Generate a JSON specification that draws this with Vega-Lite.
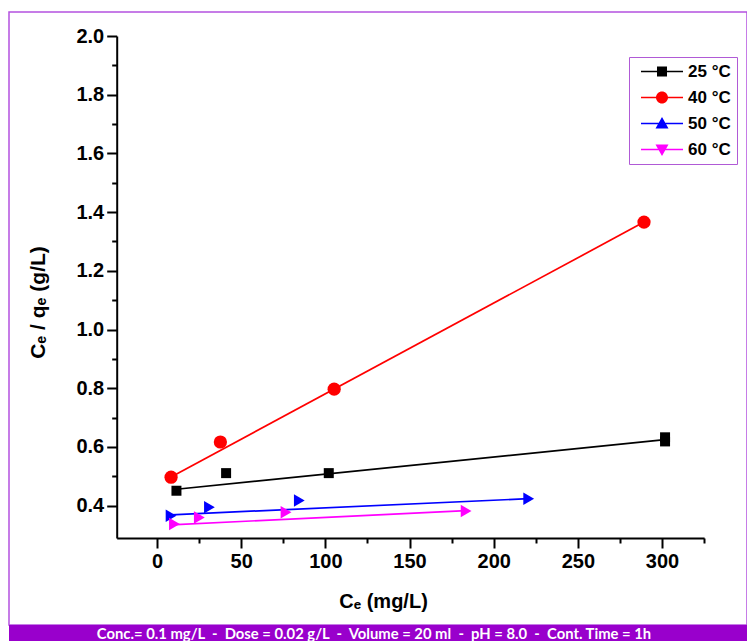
{
  "$schema": "https://vega.github.io/schema/vega-lite/v6.json",
  "autosize": {"type": "pad"},
  "padding": {"left": 8, "top": 11, "right": 0, "bottom": 0},
  "background": "white",
  "spacing": 0,
  "bounds": "flush",
  "config": {
    "view": {"stroke": "#b452e0", "strokeWidth": 1.5},
    "font": "Liberation Sans"
  },
  "datasets": {
    "points": [
      {"T": "25 °C", "Ce": 11.5, "ratio": 0.451},
      {"T": "25 °C", "Ce": 41.0, "ratio": 0.511},
      {"T": "25 °C", "Ce": 102.0, "ratio": 0.511},
      {"T": "25 °C", "Ce": 301.8, "ratio": 0.633},
      {"T": "25 °C", "Ce": 301.8, "ratio": 0.619},
      {"T": "40 °C", "Ce": 8.3, "ratio": 0.497},
      {"T": "40 °C", "Ce": 37.6, "ratio": 0.617},
      {"T": "40 °C", "Ce": 105.2, "ratio": 0.797},
      {"T": "40 °C", "Ce": 289.3, "ratio": 1.366},
      {"T": "50 °C", "Ce": 8.3, "ratio": 0.366},
      {"T": "50 °C", "Ce": 31.1, "ratio": 0.395},
      {"T": "50 °C", "Ce": 84.5, "ratio": 0.418},
      {"T": "50 °C", "Ce": 220.8, "ratio": 0.424},
      {"T": "60 °C", "Ce": 10.3, "ratio": 0.338},
      {"T": "60 °C", "Ce": 25.1, "ratio": 0.36},
      {"T": "60 °C", "Ce": 76.6, "ratio": 0.378},
      {"T": "60 °C", "Ce": 183.6, "ratio": 0.382}
    ],
    "fits": [
      {"T": "25 °C", "Ce": 11.5, "ratio": 0.456},
      {"T": "25 °C", "Ce": 301.8, "ratio": 0.625},
      {"T": "40 °C", "Ce": 8.3, "ratio": 0.498},
      {"T": "40 °C", "Ce": 289.3, "ratio": 1.366},
      {"T": "50 °C", "Ce": 8.3, "ratio": 0.369},
      {"T": "50 °C", "Ce": 220.8, "ratio": 0.424},
      {"T": "60 °C", "Ce": 8.3, "ratio": 0.335},
      {"T": "60 °C", "Ce": 183.6, "ratio": 0.383}
    ],
    "note": [
      {"text": "Conc.= 0.1 mg/L\u00a0 -\u00a0 Dose = 0.02 g/L\u00a0 -\u00a0 Volume = 20 ml\u00a0 -\u00a0 pH = 8.0\u00a0 -\u00a0 Cont. Time = 1h"}
    ]
  },
  "vconcat": [
    {
      "width": 738,
      "height": 613,
      "resolve": {"axis": {"x": "independent", "y": "independent"}},
      "layer": [
        {
          "data": {"name": "fits"},
          "mark": {"type": "line", "strokeWidth": 1.7},
          "encoding": {
            "x": {
              "field": "Ce", "type": "quantitative",
              "scale": {"domain": [-24, 325], "range": [107.7, 695.1], "nice": false, "zero": false},
              "axis": {
                "orient": "bottom", "offset": -87,
                "values": [0, 50, 100, 150, 200, 250, 300],
                "format": "d",
                "grid": false, "domainColor": "black", "domainWidth": 2,
                "tickColor": "black", "tickWidth": 2, "tickSize": 10,
                "labelFont": "Liberation Sans", "labelFontWeight": "bold", "labelFontSize": 20, "labelColor": "black", "labelPadding": 3,
                "title": "Cₑ (mg/L)", "titleFont": "Liberation Sans", "titleFontWeight": "bold", "titleFontSize": 20, "titleColor": "black",
                "titleX": 374, "titleY": 63, "titleBaseline": "middle", "titleAlign": "center"
              }
            },
            "y": {
              "field": "ratio", "type": "quantitative",
              "scale": {"domain": [0.29, 2.0], "range": [526, 24], "nice": false, "zero": false},
              "axis": {
                "orient": "left", "offset": -107.7,
                "values": [0.4, 0.6, 0.8, 1.0, 1.2, 1.4, 1.6, 1.8, 2.0],
                "format": ".1f",
                "grid": false, "domainColor": "black", "domainWidth": 2,
                "tickColor": "black", "tickWidth": 2, "tickSize": 10,
                "labelFont": "Liberation Sans", "labelFontWeight": "bold", "labelFontSize": 20, "labelColor": "black", "labelPadding": 3,
                "title": "Cₑ / qₑ (g/L)", "titleFont": "Liberation Sans", "titleFontWeight": "bold", "titleFontSize": 21, "titleColor": "black",
                "titleX": -78, "titleY": 290, "titleAngle": -90, "titleBaseline": "middle", "titleAlign": "center"
              }
            },
            "detail": {"field": "T", "type": "nominal"},
            "color": {
              "condition": [
                {"test": "datum.T === '25 °C'", "value": "#000000"},
                {"test": "datum.T === '40 °C'", "value": "#ff0000"},
                {"test": "datum.T === '50 °C'", "value": "#0000ff"}
              ],
              "value": "#ff00ff"
            }
          }
        },
        {
          "data": {"name": "points"},
          "transform": [{"filter": "datum.T === '25 °C' || datum.T === '40 °C'"}],
          "mark": {"type": "point", "filled": true, "opacity": 1},
          "encoding": {
            "x": {
              "field": "Ce", "type": "quantitative",
              "scale": {"domain": [-24, 325], "range": [107.7, 695.1], "nice": false, "zero": false},
              "axis": {
                "orient": "bottom", "offset": -87,
                "values": [25, 75, 125, 175, 225, 275, 325],
                "labels": false, "domain": false, "grid": false,
                "tickColor": "black", "tickWidth": 2, "tickSize": 5, "title": null
              }
            },
            "y": {
              "field": "ratio", "type": "quantitative",
              "scale": {"domain": [0.29, 2.0], "range": [526, 24], "nice": false, "zero": false},
              "axis": {
                "orient": "left", "offset": -107.7,
                "values": [0.5, 0.7, 0.9, 1.1, 1.3, 1.5, 1.7, 1.9],
                "labels": false, "domain": false, "grid": false,
                "tickColor": "black", "tickWidth": 2, "tickSize": 5, "title": null
              }
            },
            "color": {
              "condition": {"test": "datum.T === '25 °C'", "value": "#000000"},
              "value": "#ff0000"
            },
            "shape": {"condition": {"test": "datum.T === '25 °C'", "value": "square"}, "value": "circle"},
            "size": {"condition": {"test": "datum.T === '25 °C'", "value": 100}, "value": 175}
          }
        },
        {
          "data": {"name": "points"},
          "transform": [{"filter": "datum.T === '50 °C' || datum.T === '60 °C'"}],
          "mark": {"type": "point", "filled": true, "opacity": 1, "shape": "triangle-right", "size": 155},
          "encoding": {
            "x": {"field": "Ce", "type": "quantitative", "axis": null},
            "y": {"field": "ratio", "type": "quantitative", "axis": null},
            "color": {
              "condition": {"test": "datum.T === '50 °C'", "value": "#0000ff"},
              "value": "#ff00ff"
            }
          }
        },
        {
          "data": {"name": "fits"},
          "mark": {"type": "point", "filled": true},
          "encoding": {
            "x": {"field": "Ce", "type": "quantitative", "axis": null},
            "y": {"field": "ratio", "type": "quantitative", "axis": null},
            "opacity": {"value": 0},
            "fill": {
              "field": "T", "type": "nominal",
              "scale": {"domain": ["25 °C", "40 °C", "50 °C", "60 °C"], "range": ["#000000", "#ff0000", "#0000ff", "#ff00ff"]},
              "legend": {
                "orient": "none", "legendX": 620, "legendY": 45,
                "title": null,
                "padding": 6,
                "strokeColor": "#b05ad6", "fillColor": "white",
                "labelFont": "Liberation Sans", "labelFontWeight": "bold", "labelFontSize": 17, "labelColor": "black",
                "labelOffset": 36,
                "symbolSize": 100, "symbolStrokeWidth": 0, "symbolOpacity": 1,
                "rowPadding": 8
              }
            },
            "shape": {
              "field": "T", "type": "nominal",
              "scale": {
                "domain": ["25 °C", "40 °C", "50 °C", "60 °C"],
                "range": [
                  "M-0.5,-0.17H7.9V0.17H-0.5ZM2.7,-1H4.7V1H2.7Z",
                  "M-0.5,-0.17H7.9V0.17H-0.5ZM2.5,0A1.2,1.2,0,1,1,4.9,0A1.2,1.2,0,1,1,2.5,0Z",
                  "M-0.5,-0.17H7.9V0.17H-0.5ZM3.7,-1.3L5,1L2.4,1Z",
                  "M-0.5,-0.17H7.9V0.17H-0.5ZM3.7,1.3L2.4,-1L5,-1Z"
                ]
              },
              "legend": {
                "orient": "none", "legendX": 620, "legendY": 45,
                "title": null,
                "padding": 6,
                "strokeColor": "#b05ad6", "fillColor": "white",
                "labelFont": "Liberation Sans", "labelFontWeight": "bold", "labelFontSize": 17, "labelColor": "black",
                "labelOffset": 36,
                "symbolSize": 100, "symbolStrokeWidth": 0, "symbolOpacity": 1,
                "rowPadding": 8
              }
            }
          }
        }
      ]
    },
    {
      "width": 738,
      "height": 17,
      "view": {"fill": "#9900cc", "stroke": null},
      "data": {"name": "note"},
      "mark": {"type": "text", "color": "white", "font": "Lato", "fontWeight": "bold", "fontSize": 14.8, "baseline": "middle", "align": "center", "dx": -4, "dy": 1},
      "encoding": {"text": {"field": "text"}}
    }
  ]
}
